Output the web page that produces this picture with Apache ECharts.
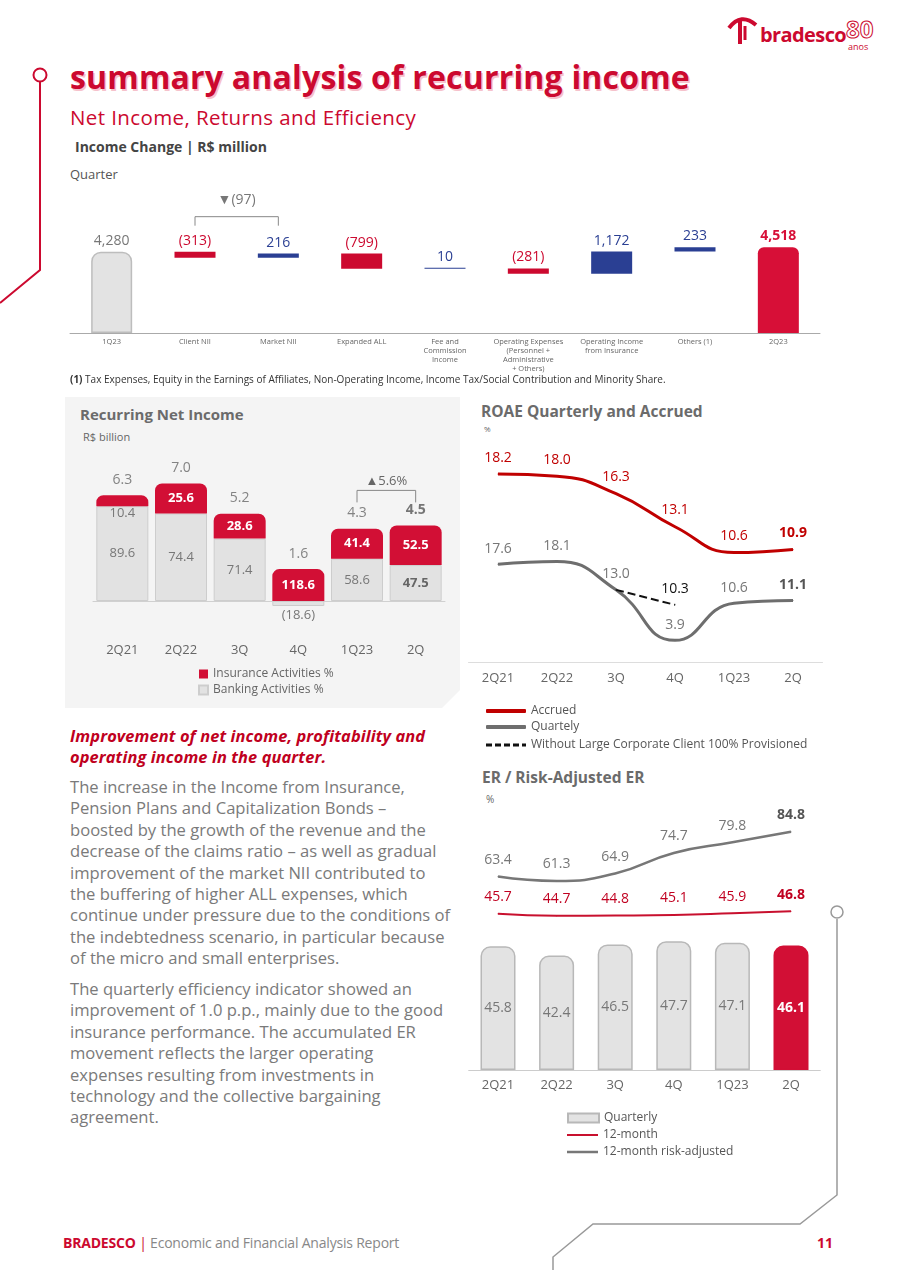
<!DOCTYPE html>
<html><head><meta charset="utf-8">
<script src="https://cdn.jsdelivr.net/npm/echarts@6/dist/echarts.min.js"></script>
<style>
body{margin:0;width:899px;height:1270px;position:relative;background:#fff;font-family:'Open Sans',sans-serif;overflow:hidden}
.abs{position:absolute;white-space:nowrap}
.chart{position:absolute}
</style></head><body>
<svg class="abs" style="left:0;top:0" width="899" height="1270">
  <circle cx="40" cy="75" r="6.5" fill="none" stroke="#cc092f" stroke-width="2"/>
  <polyline points="40,82 40,270 0,303" fill="none" stroke="#cc092f" stroke-width="2"/>
  <circle cx="837" cy="912" r="6" fill="none" stroke="#999" stroke-width="1.5"/>
  <polyline points="837,919 837,1195 800,1224 593,1224 553,1257 553,1270" fill="none" stroke="#999" stroke-width="1.5"/>
  <polygon points="65,397 460,397 460,690 442,708 65,708" fill="#f4f4f4"/>
  <!-- logo icon -->
  <path d="M729 28 Q741 12 756 25" fill="none" stroke="#cc092f" stroke-width="4"/>
  <path d="M740 21 L740 44" stroke="#cc092f" stroke-width="4"/>
  <path d="M745 26 L745 40" stroke="#cc092f" stroke-width="3"/>
</svg>
<div class="abs" style="left:760px;top:22px;font:700 20px 'Open Sans';color:#cc092f;letter-spacing:-0.6px;line-height:26px">bradesco</div>
<div class="abs" style="left:846px;top:14px;font:700 24px 'Open Sans';color:#fff;-webkit-text-stroke:1px #cc092f;line-height:30px">80</div>
<div class="abs" style="left:848px;top:41px;font:400 9px 'Open Sans';color:#cc092f;line-height:12px">anos</div>

<div class="abs" style="left:70px;top:57px;font:700 32px 'Open Sans';color:#cc092f;letter-spacing:0.2px;line-height:40px;text-shadow:1.5px 1.5px 0 #f6c2cc">summary analysis of recurring income</div>
<div class="abs" style="left:70px;top:104px;font:400 20.5px 'Open Sans';color:#cc092f;line-height:26px;letter-spacing:0.4px">Net Income, Returns and Efficiency</div>
<div class="abs" style="left:75px;top:138px;font:700 14px 'Open Sans';color:#444;line-height:18px">Income Change | R$ million</div>
<div class="abs" style="left:70px;top:165px;font:400 13px 'Open Sans';color:#555;line-height:18px">Quarter</div>
<div class="chart" id="wf" style="left:0;top:180px;width:899px;height:195px"></div>
<div class="abs" style="left:70px;top:373px;font:400 10px 'Open Sans';color:#333;line-height:12px"><b>(1)</b> Tax Expenses, Equity in the Earnings of Affiliates, Non-Operating Income, Income Tax/Social Contribution and Minority Share.</div>

<div class="abs" style="left:80px;top:404px;font:700 15px 'Open Sans';color:#6b6b6b;line-height:20px">Recurring Net Income</div>
<div class="abs" style="left:83px;top:430px;font:400 11px 'Open Sans';color:#666;line-height:14px">R$ billion</div>
<div class="chart" id="rni" style="left:65px;top:397px;width:395px;height:311px"></div>

<div class="abs" style="left:481px;top:401px;font:700 15.5px 'Open Sans';color:#6b6b6b;line-height:20px">ROAE Quarterly and Accrued</div>
<div class="abs" style="left:484px;top:424px;font:400 8px 'Open Sans';color:#666;line-height:10px">%</div>
<div class="chart" id="roae" style="left:465px;top:395px;width:370px;height:365px"></div>

<div class="abs" style="left:482px;top:767px;font:700 15.5px 'Open Sans';color:#6b6b6b;line-height:20px">ER / Risk-Adjusted ER</div>
<div class="abs" style="left:486px;top:793px;font:400 10px 'Open Sans';color:#666;line-height:12px">%</div>
<div class="chart" id="er" style="left:465px;top:765px;width:370px;height:400px"></div>

<div class="abs" style="left:70px;top:725px;font:italic 700 16.4px 'Open Sans';color:#c00020;line-height:21px;letter-spacing:0.1px">Improvement of net income, profitability and<br>operating income in the quarter.</div>
<div class="abs" style="left:70px;top:776px;font:400 16.6px 'Open Sans';color:#7a7a7a;line-height:21.4px">The increase in the Income from Insurance,<br>Pension Plans and Capitalization Bonds –<br>boosted by the growth of the revenue and the<br>decrease of the claims ratio – as well as gradual<br>improvement of the market NII contributed to<br>the buffering of higher ALL expenses, which<br>continue under pressure due to the conditions of<br>the indebtedness scenario, in particular because<br>of the micro and small enterprises.</div>
<div class="abs" style="left:70px;top:978px;font:400 16.6px 'Open Sans';color:#7a7a7a;line-height:21.4px">The quarterly efficiency indicator showed an<br>improvement of 1.0 p.p., mainly due to the good<br>insurance performance. The accumulated ER<br>movement reflects the larger operating<br>expenses resulting from investments in<br>technology and the collective bargaining<br>agreement.</div>

<div class="abs" style="left:63px;top:1234px;font:400 14px 'Open Sans';color:#888;line-height:18px;letter-spacing:-0.2px"><b style="color:#cc092f">BRADESCO</b> <span style="color:#cc092f">|</span> Economic and Financial Analysis Report</div>
<div class="abs" style="left:817px;top:1234px;font:700 14px 'Open Sans';color:#cc092f;line-height:18px">11</div>

<script>
// ---------- DATA ----------
const wfCategories = ['1Q23','Client NII','Market NII','Expanded ALL','Fee and\nCommission\nIncome','Operating Expenses\n(Personnel +\nAdministrative\n+ Others)','Operating Income\nfrom Insurance','Others (1)','2Q23'];
const wfValues = [4280, -313, 216, -799, 10, -281, 1172, 233, 4518];
const wfNiiChange = '▼(97)';

const rniCategories = ['2Q21','2Q22','3Q','4Q','1Q23','2Q'];
const rniTotal = [6.3, 7.0, 5.2, 1.6, 4.3, 4.5];
const rniInsurancePct = [10.4, 25.6, 28.6, 118.6, 41.4, 52.5];
const rniBankingPct = [89.6, 74.4, 71.4, -18.6, 58.6, 47.5];
const rniGrowth = '▲5.6%';

const roaeCategories = ['2Q21','2Q22','3Q','4Q','1Q23','2Q'];
const roaeAccrued = [18.2, 18.0, 16.3, 13.1, 10.6, 10.9];
const roaeQuarterly = [17.6, 18.1, 13.0, 3.9, 10.6, 11.1];
const roaeWithoutClient = [null, null, 13.0, 10.3, null, null];

const erCategories = ['2Q21','2Q22','3Q','4Q','1Q23','2Q'];
const erQuarterly = [45.8, 42.4, 46.5, 47.7, 47.1, 46.1];
const er12m = [45.7, 44.7, 44.8, 45.1, 45.9, 46.8];
const erRiskAdj = [63.4, 61.3, 64.9, 74.7, 79.8, 84.8];

// ---------- STYLE ----------
const RED = '#cc092f', BRIGHTRED = '#d70f37', BLUE = '#2a3f93', FONT = 'Open Sans';
const fmt1 = v => v < 0 ? '(' + Math.abs(v).toFixed(1) + ')' : v.toFixed(1);
const fmtK = v => v < 0 ? '(' + Math.abs(v).toLocaleString('en-US') + ')' : v.toLocaleString('en-US');
const lbl1 = p => fmt1(Array.isArray(p.value) ? p.value[1] : p.value);

// ---------- WATERFALL ----------
(function(){
  const chart = echarts.init(document.getElementById('wf'));
  const n = wfValues.length;
  let level = 0; const base = [], bar = [];
  wfValues.forEach((v,i)=>{
    if(i===0||i===n-1){ base.push(0); bar.push(v); level = v; }
    else { const nl = level + v; base.push(Math.min(level,nl)); bar.push(Math.abs(v)); level = nl; }
  });
  const barData = bar.map((h,i)=>{
    const v = wfValues[i];
    if(i===0) return {value:h, itemStyle:{color:'#e3e3e3',borderColor:'#bdbdbd',borderWidth:1.5,borderRadius:[9,9,0,0]}, label:{color:'#777'}};
    if(i===n-1) return {value:h, itemStyle:{color:BRIGHTRED,borderRadius:[6,6,0,0]}, label:{color:BRIGHTRED,fontWeight:'bold'}};
    const c = v<0?RED:BLUE;
    return {value:h, itemStyle:{color:c}, label:{color:c}};
  });
  chart.setOption({
    animation:false,
    textStyle:{fontFamily:FONT},
    grid:{left:70,width:750,top:39,height:114},
    xAxis:{type:'category',data:wfCategories,axisTick:{show:false},axisLine:{lineStyle:{color:'#aaa'}},
      axisLabel:{interval:0,fontSize:7.5,color:'#666',lineHeight:9,margin:4}},
    yAxis:{type:'value',min:0,max:6000,show:false},
    series:[
      {type:'bar',stack:'w',data:base,itemStyle:{color:'rgba(0,0,0,0)'},barWidth:41,silent:true},
      {type:'bar',stack:'w',barWidth:41,barMinHeight:1,data:barData,
        label:{show:true,position:'top',distance:4,fontSize:14,formatter:p=>fmtK(wfValues[p.dataIndex])}}
    ]
  });
  const p1 = chart.convertToPixel({xAxisIndex:0,yAxisIndex:0},[1,wfValues[0]]);
  const p2 = chart.convertToPixel({xAxisIndex:0,yAxisIndex:0},[2,wfValues[0]]);
  const yb = p1[1]-35;
  chart.setOption({graphic:[
    {type:'polyline',shape:{points:[[p1[0],yb+9],[p1[0],yb],[p2[0],yb],[p2[0],yb+9]]},style:{stroke:'#888',lineWidth:1,fill:null}},
    {type:'text',x:(p1[0]+p2[0])/2,y:yb-17,style:{text:wfNiiChange,fill:'#777',font:'14px '+FONT,align:'center',verticalAlign:'middle',textAlign:'center',textVerticalAlign:'middle'}}
  ]});
})();

// ---------- RECURRING NET INCOME ----------
(function(){
  const chart = echarts.init(document.getElementById('rni'));
  const bank = rniTotal.map((t,i)=>t*rniBankingPct[i]/100);
  const ins = rniTotal.map((t,i)=>t*rniInsurancePct[i]/100);
  const top = rniTotal.map((t,i)=>Math.max(bank[i],0)+ins[i]);
  const last = rniTotal.length-1;
  chart.setOption({
    animation:false,
    textStyle:{fontFamily:FONT},
    grid:{left:28,width:352,top:69.6,height:168},
    xAxis:{type:'category',data:rniCategories,axisTick:{show:false},axisLine:{onZero:true,lineStyle:{color:'#d0d0d0'}},
      axisLabel:{margin:9,fontSize:13,color:'#666'}},
    yAxis:{type:'value',min:-2,max:8,show:false},
    legend:{orient:'vertical',left:128,top:266,itemGap:4,itemWidth:9,itemHeight:9,icon:'rect',
      textStyle:{fontSize:12,color:'#666'},data:['Insurance Activities %','Banking Activities %']},
    series:[
      {name:'Banking Activities %',type:'bar',stack:'r',barWidth:52,
        itemStyle:{color:'#e2e2e2',borderColor:'#cdcdcd',borderWidth:1},
        data:bank.map((v,i)=>{
          const d={value:v};
          if(v<0) d.label={position:'bottom',distance:3};
          if(i===last) d.label={fontWeight:'bold',color:'#666'};
          return d;}),
        label:{show:true,position:'inside',fontSize:13,color:'#777',formatter:p=>fmt1(rniBankingPct[p.dataIndex])}},
      {name:'Insurance Activities %',type:'bar',stack:'r',barWidth:52,
        itemStyle:{color:'#d20f35',borderRadius:[7,7,0,0]},
        data:ins.map((v,i)=>{
          const d={value:v};
          if(rniInsurancePct[i]<15) d.label={position:'bottom',distance:1,color:'#777',fontWeight:'normal'};
          return d;}),
        label:{show:true,position:'inside',fontSize:13,color:'#fff',fontWeight:'bold',formatter:p=>fmt1(rniInsurancePct[p.dataIndex])}},
      {name:'total',type:'scatter',symbolSize:1,itemStyle:{color:'rgba(0,0,0,0)'},silent:true,
        data:top.map((v,i)=>i===last?{value:v,label:{fontWeight:'bold',color:'#555'}}:v),
        label:{show:true,position:'top',distance:8,fontSize:14,color:'#666',formatter:p=>rniTotal[p.dataIndex].toFixed(1)}}
    ]
  });
  const pA = chart.convertToPixel({xAxisIndex:0,yAxisIndex:0},[last-1,top[last-1]]);
  const pB = chart.convertToPixel({xAxisIndex:0,yAxisIndex:0},[last,top[last]]);
  const yb = Math.min(pA[1],pB[1])-35;
  chart.setOption({graphic:[
    {type:'polyline',shape:{points:[[pA[0],yb+12],[pA[0],yb],[pB[0],yb],[pB[0],yb+12]]},style:{stroke:'#888',lineWidth:1,fill:null}},
    {type:'text',x:(pA[0]+pB[0])/2,y:yb-9,style:{text:rniGrowth,fill:'#666',font:'13px '+FONT,align:'center',verticalAlign:'middle',textAlign:'center',textVerticalAlign:'middle'}}
  ]});
})();

// ---------- ROAE ----------
(function(){
  const chart = echarts.init(document.getElementById('roae'));
  const last = roaeAccrued.length-1;
  const dash = 'path://M0 0H6V3H0Z M9 0H15V3H9Z M18 0H24V3H18Z M27 0H33V3H27Z M36 0H40V3H36Z';
  const lg = (name,icon,top)=>({left:16,top:top,itemWidth:40,itemHeight:4,itemGap:0,textStyle:{fontSize:12,color:'#555'},data:[{name:name,icon:icon}]});
  chart.setOption({
    animation:false,
    textStyle:{fontFamily:FONT},
    grid:{left:3.5,width:354,top:45,height:222},
    xAxis:{type:'category',data:roaeCategories,axisTick:{show:false},axisLine:{lineStyle:{color:'#ddd'}},
      axisLabel:{margin:10,fontSize:13,color:'#666'}},
    yAxis:[{type:'value',min:0,max:40,show:false},{type:'value',min:0,max:21.5,show:false}],
    legend:[lg('Accrued','roundRect',305),lg('Quartely','roundRect',321),lg('Without Large Corporate Client 100% Provisioned',dash,339)],
    series:[
      {name:'Accrued',type:'line',smooth:true,yAxisIndex:1,data:roaeAccrued.map((v,i)=>i===last?{value:v,label:{fontWeight:'bold'}}:v),
        symbol:'circle',symbolSize:1,color:'#c00000',lineStyle:{color:'#c00000',width:3},
        label:{show:true,position:'top',distance:9,fontSize:14,color:'#c00000',formatter:lbl1}},
      {name:'Quartely',type:'line',smooth:true,yAxisIndex:0,data:roaeQuarterly.map((v,i)=>i===last?{value:v,label:{fontWeight:'bold',color:'#555'}}:v),
        symbol:'circle',symbolSize:1,color:'#6e6e6e',lineStyle:{color:'#6e6e6e',width:3},
        label:{show:true,position:'top',distance:8,fontSize:14,color:'#777',formatter:lbl1}},
      {name:'Without Large Corporate Client 100% Provisioned',type:'line',yAxisIndex:0,
        data:roaeWithoutClient.map((v,i)=>i===3?{value:v,label:{show:true}}:v),
        symbol:'circle',symbolSize:1,color:'#111',lineStyle:{color:'#111',width:2,type:'dashed'},
        label:{show:false,position:'top',distance:8,fontSize:14,color:'#111',formatter:lbl1}}
    ]
  });
})();

// ---------- ER ----------
(function(){
  const chart = echarts.init(document.getElementById('er'));
  const last = erQuarterly.length-1;
  chart.setOption({
    animation:false,
    textStyle:{fontFamily:FONT},
    grid:{left:3.7,width:351.6,top:35,height:270},
    xAxis:{type:'category',data:erCategories,axisTick:{show:false},axisLine:{lineStyle:{color:'#ccc'}},
      axisLabel:{margin:9,fontSize:13,color:'#666'}},
    yAxis:[{type:'value',min:0,max:100,show:false},{type:'value',min:-29,max:100,show:false}],
    legend:[
      {left:97,top:342,itemWidth:31,itemHeight:9,textStyle:{fontSize:12,color:'#555'},data:[{name:'Quarterly',icon:'rect'}]},
      {left:97,top:359,itemWidth:31,itemHeight:2,textStyle:{fontSize:12,color:'#555'},data:[{name:'12-month',icon:'rect'}]},
      {left:97,top:376,itemWidth:31,itemHeight:2.5,textStyle:{fontSize:12,color:'#555'},data:[{name:'12-month risk-adjusted',icon:'rect'}]}
    ],
    series:[
      {name:'Quarterly',type:'bar',barWidth:35,yAxisIndex:0,
        itemStyle:{color:'#e3e3e3',borderColor:'#b8b8b8',borderWidth:1.5,borderRadius:[9,9,0,0]},
        data:erQuarterly.map((v,i)=>i===last?{value:v,itemStyle:{color:'#d20f35',borderColor:'#d20f35'},label:{color:'#fff',fontWeight:'bold'}}:v),
        label:{show:true,position:'inside',fontSize:14,color:'#777',formatter:lbl1}},
      {name:'12-month',type:'line',smooth:true,yAxisIndex:1,symbol:'circle',symbolSize:1,color:'#c8102e',
        lineStyle:{color:'#c8102e',width:2},
        data:er12m.map((v,i)=>i===last?{value:v,label:{fontWeight:'bold'}}:v),
        label:{show:true,position:'top',distance:9,fontSize:14,color:'#c00020',formatter:lbl1}},
      {name:'12-month risk-adjusted',type:'line',smooth:true,yAxisIndex:1,symbol:'circle',symbolSize:1,color:'#777',
        lineStyle:{color:'#777',width:2.5},
        data:erRiskAdj.map((v,i)=>i===last?{value:v,label:{fontWeight:'bold',color:'#555'}}:v),
        label:{show:true,position:'top',distance:9,fontSize:14,color:'#777',formatter:lbl1}}
    ]
  });
})();
</script>
</body></html>
